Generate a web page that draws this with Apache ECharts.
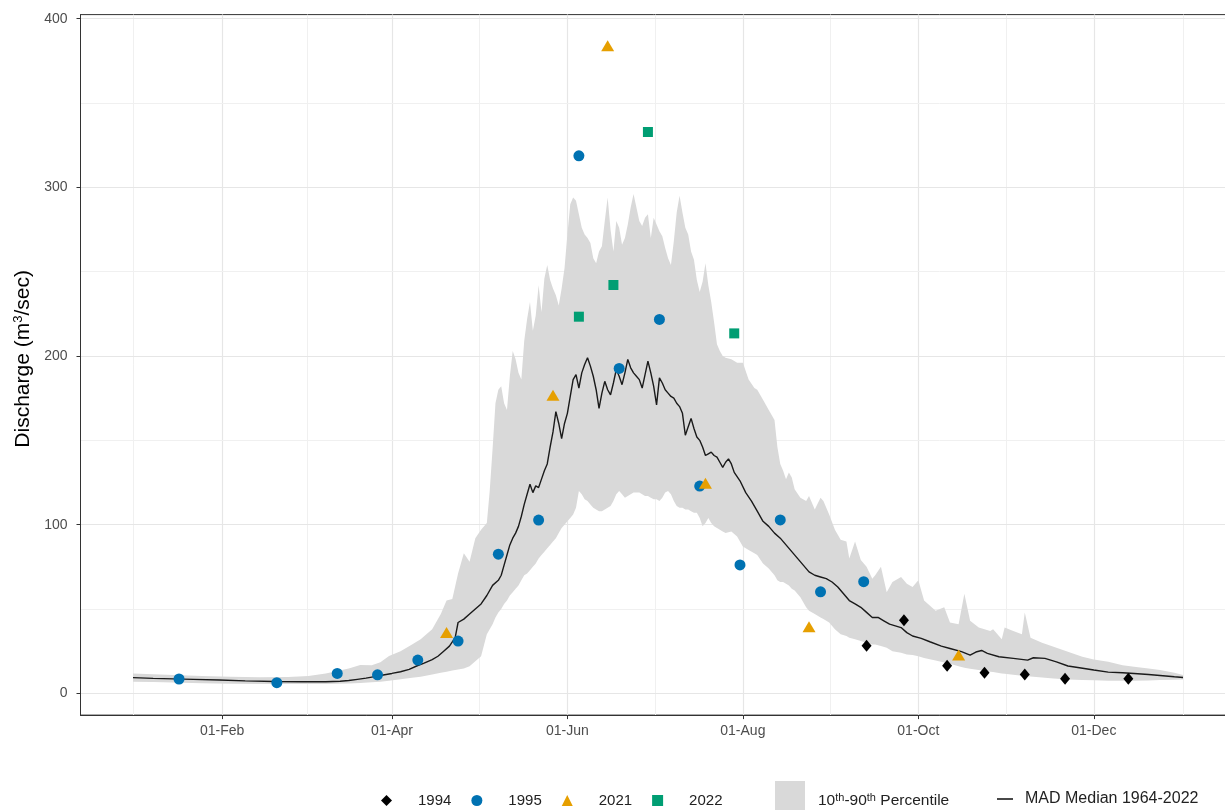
<!DOCTYPE html>
<html>
<head>
<meta charset="utf-8">
<title>Discharge</title>
<script src="https://cdn.jsdelivr.net/npm/echarts@6/dist/echarts.min.js"></script>
<style>
  html, body { margin: 0; padding: 0; background: #fff; }
  #chart { width: 1225px; height: 810px; }
</style>
</head>
<body>
<div id="chart"></div>
<script>
// x axis = day of year
const tickDays = [32, 91, 152, 213, 274, 335];
const tickLabels = ['01-Feb', '01-Apr', '01-Jun', '01-Aug', '01-Oct', '01-Dec'];
const minorDays = [1, 61.5, 121.5, 182.5, 243.5, 304.5, 366];
const yTicks = [0, 100, 200, 300, 400];
const yMinor = [50, 150, 250, 350];

// single years (biweekly measurements)
const days1994 = [256, 269, 284, 297, 311, 325, 347];
const vals1994 = [28.2, 43.4, 16.4, 12.2, 11.2, 8.6, 8.6];
const days1995 = [17, 51, 72, 86, 100, 114, 128, 142, 156, 170, 184, 198, 212, 226, 240, 255];
const vals1995 = [8.5, 6.3, 11.8, 11.0, 19.7, 31.0, 82.5, 102.7, 318.7, 192.6, 221.7, 122.9, 76.1, 102.8, 60.2, 66.2];
const days2021 = [110, 147, 166, 200, 236, 288];
const vals2021 = [36.1, 176.8, 384.0, 124.5, 39.5, 22.7];
const days2022 = [156, 168, 180, 210];
const vals2022 = [223.3, 242.1, 332.8, 213.4];

// MAD median 1964-2022
const medianDays = [1, 8, 15, 22, 31, 40, 50, 60, 68, 73, 76, 79, 82, 85, 88, 91, 94, 97, 100, 102,
  105, 107, 109, 111, 113, 114, 116, 118, 120, 122, 124, 126, 128, 129, 130, 131, 132, 133, 134, 135,
  136, 137, 138, 139, 140, 141, 142, 143, 144, 145, 146, 147, 148, 149, 150, 151, 152, 153, 154, 155,
  156, 157, 158, 159, 160, 161, 162, 163, 164, 165, 166, 167, 168, 169, 170, 171, 172, 173, 174, 175,
  176, 177, 178, 179, 180, 181, 182, 183, 184, 185, 186, 187, 188, 189, 190, 191, 192, 193, 194, 195,
  196, 197, 198, 199, 200, 201, 202, 203, 204, 205, 206, 207, 208, 209, 210, 212, 214, 216, 218, 220,
  222, 224, 226, 228, 230, 232, 234, 236, 238, 240, 242, 244, 246, 248, 250, 252, 254, 256, 258, 260,
  262, 264, 266, 268, 270, 272, 275, 278, 282, 285, 289, 292, 294, 296, 298, 302, 307, 312, 314, 318,
  322, 326, 330, 335, 340, 345, 349, 354, 358, 363, 366];
const medianVals = [9.3, 8.9, 8.6, 8.3, 7.9, 7.4, 7.0, 6.9, 6.9, 7.2, 7.6, 8.3, 9.0, 9.9, 10.9, 11.8, 12.8, 14.2, 16.5, 17.8,
  20, 22, 25, 28, 33, 42, 44, 47, 50, 53, 58, 64, 67, 70, 76, 82, 88, 92, 95, 99,
  105, 112, 118, 124, 119, 123, 122, 127, 132, 136, 146, 155, 167, 160, 151, 160, 166, 176, 186, 189,
  181, 190, 195, 199, 194, 188, 180, 169, 178, 185, 180, 177, 184, 192, 188, 183, 190, 198, 193, 190,
  188, 186, 181, 189, 197, 190, 182, 171, 187, 184, 180, 178, 176, 175, 172, 170, 166, 153, 158, 163,
  157, 152, 150, 146, 141, 142, 143, 141, 140, 137, 134, 137, 139, 136, 131, 126, 119, 114, 108, 102,
  99, 95, 92, 88, 84, 80, 76, 72, 70, 69, 68, 66, 63, 59, 55, 53, 51, 48, 45, 45,
  43, 41, 40, 39, 36, 34, 32.6, 30.6, 28, 26.6, 24.7, 22.7, 24.5, 25.4, 23.7, 21.7, 20.7, 19.7, 21.1, 20.7,
  18.7, 16.2, 15.2, 13.8, 12.6, 12.2, 11.8, 11.2, 10.6, 9.8, 9.4];

// 10th-90th percentile band
const bandDays = [1, 8, 15, 25, 35, 45, 55, 62, 68, 72, 76, 80, 84, 87, 90, 94, 98, 101, 105, 108,
  110, 112, 114, 116, 118, 120, 122, 124, 125, 126, 127, 128, 129, 130, 131, 132, 133, 134, 135, 136,
  137, 138, 139, 140, 141, 142, 143, 144, 145, 146, 147, 148, 149, 150, 151, 152, 153, 154, 155, 156,
  157, 158, 159, 160, 161, 162, 163, 164, 165, 166, 167, 168, 169, 170, 171, 172, 173, 174, 175, 176,
  177, 178, 179, 180, 181, 182, 183, 184, 185, 186, 187, 188, 189, 190, 191, 192, 193, 194, 195, 196,
  197, 198, 199, 200, 201, 202, 203, 204, 205, 206, 207, 209, 211, 213, 215, 217, 218, 220, 222, 224,
  225, 226, 227, 228, 229, 230, 231, 233, 235, 236, 238, 240, 241, 243, 245, 247, 249, 250, 252, 254,
  256, 258, 259, 261, 263, 265, 268, 270, 272, 274, 276, 280, 283, 285, 288, 290, 292, 295, 299, 300,
  303, 304, 307, 310, 311, 313, 317, 321, 326, 331, 335, 340, 345, 349, 354, 358, 363, 366];
const bandLow = [6.9, 6.7, 6.4, 6.0, 5.7, 5.5, 5.5, 5.5, 5.6, 5.7, 5.9, 6.2, 6.6, 6.9, 7.4, 8.3, 9.2, 9.9, 11.2, 12.2,
  12.8, 13.5, 14.2, 14.8, 16, 19, 22, 35, 38, 41, 45, 48, 50, 53, 55, 58, 60, 62, 64, 67,
  70, 71, 73, 75, 77, 80, 82, 84, 86, 88, 90, 92, 95, 98, 100, 102, 104, 106, 110, 120,
  118, 115, 114, 112, 110, 109, 108, 108, 109, 110, 111, 114, 118, 120, 118, 116, 117, 118, 119, 119,
  119, 118, 117, 117, 116, 115, 115, 114, 116, 119, 120, 118, 114, 111, 110, 110, 109, 109, 108, 107,
  107, 104, 99, 101, 104, 101, 99, 98, 97, 96, 95, 96, 93, 87, 85, 83, 82, 77, 74, 70,
  67, 66, 66, 65, 64, 62, 61, 57, 51, 49, 47, 45, 44, 42, 38, 35, 34, 33, 32, 31,
  30, 29, 29, 28, 27, 25, 24, 23, 22.7, 22, 21, 19.5, 18.3, 17.5, 16, 15.2, 14.6, 13.8, 12.8, 12.6,
  11.8, 11.6, 11, 10.5, 10.3, 10, 9.4, 8.8, 8.2, 7.9, 7.7, 7.5, 7.5, 7.5, 7.6, 7.9, 8.0, 8.2];
const bandHigh = [11.8, 11.3, 10.9, 10.3, 9.9, 9.6, 9.7, 10.3, 11.8, 13.2, 14.8, 16.8, 16.6, 18.5, 22.2, 25, 29, 32, 38, 47,
  55, 56, 71, 83, 78, 92, 97, 101, 120, 145, 172, 180, 182, 172, 168, 188, 203, 198, 190, 186,
  209, 222, 232, 215, 224, 242, 226, 246, 254, 245, 240, 236, 230, 240, 252, 272, 290, 294, 292, 284,
  276, 272, 270, 267, 258, 255, 262, 265, 280, 294, 275, 262, 280, 276, 266, 270, 278, 288, 296, 288,
  280, 277, 282, 284, 270, 282, 278, 274, 271, 264, 258, 254, 268, 285, 295, 285, 276, 272, 262, 257,
  245, 238, 244, 255, 242, 232, 220, 207, 203, 200, 199, 198, 196, 196, 186, 181, 180, 174, 168, 162,
  146, 136, 132, 127, 131, 128, 121, 116, 114, 117, 109, 116, 114, 106, 97, 91, 90, 80, 90, 79,
  75, 68, 70, 75, 60, 66, 69, 65, 63, 67, 55, 49, 51, 42, 41, 59, 43, 39, 37, 38,
  32, 39, 37, 35, 48, 33, 30, 27.6, 24.7, 21.7, 20.1, 18.7, 16.7, 15.8, 14.8, 13.8, 12.2, 10.8];

const FONT = 'Liberation Sans';
const pair = (xs, ys) => xs.map((x, i) => [x, ys[i]]);

const chart = echarts.init(document.getElementById('chart'));

// ggplot-like grid lines, drawn as mark lines under everything
const major = { color: '#e6e6e6', width: 1.2, type: 'solid' };
const minor = { color: '#f0f0f0', width: 1, type: 'solid' };
const gridLines = [
  ...tickDays.map((d) => ({ xAxis: d, lineStyle: major })),
  ...minorDays.map((d) => ({ xAxis: d, lineStyle: minor })),
  ...yTicks.map((v) => ({ yAxis: v, lineStyle: major })),
  ...yMinor.map((v) => ({ yAxis: v, lineStyle: minor })),
];

const option = {
  animation: false,
  backgroundColor: '#fff',
  grid: {
    left: 80.5,
    top: 14.6,
    width: 1153.7,
    height: 700.5,
    outerBoundsMode: 'none',
    containLabel: false,
    show: true,
    borderColor: '#333',
    borderWidth: 1,
  },
  xAxis: {
    type: 'value',
    min: -17.25,
    max: 383.8,
    splitLine: { show: false },
    axisLine: { show: true, onZero: false, lineStyle: { color: '#333', width: 1 } },
    axisTick: { show: true, customValues: tickDays, length: 4, lineStyle: { color: '#333' } },
    axisLabel: {
      customValues: tickDays,
      formatter: (v) => tickLabels[tickDays.indexOf(v)] || '',
      color: '#4d4d4d',
      fontSize: 14,
      fontFamily: FONT,
      margin: 9,
    },
  },
  yAxis: {
    type: 'value',
    min: -12.9,
    max: 402.4,
    name: 'Discharge (m{sup|3}/sec)',
    nameLocation: 'middle',
    nameGap: 45,
    nameTextStyle: {
      fontSize: 21,
      color: '#000',
      fontFamily: FONT,
      padding: [0, 0, 0, 12],
      rich: { sup: { fontSize: 13, fontFamily: FONT, color: '#000', verticalAlign: 'top' } },
    },
    splitLine: { show: false },
    axisLine: { show: true, onZero: false, lineStyle: { color: '#333', width: 1 } },
    axisTick: { show: true, customValues: yTicks, length: 4, lineStyle: { color: '#333' } },
    axisLabel: {
      customValues: yTicks,
      color: '#4d4d4d',
      fontSize: 14,
      fontFamily: FONT,
      margin: 13,
    },
  },
  legend: [
    {
      data: ['1994', '1995', '2021', '2022'],
      left: 381,
      top: 793,
      padding: 0,
      itemWidth: 11,
      itemHeight: 11,
      itemGap: 20,
      textStyle: { fontSize: 15, color: '#222', fontFamily: FONT, padding: [0, 0, 0, 21] },
    },
    {
      data: [{ name: '10th-90th Percentile', icon: 'rect' }],
      left: 775,
      top: 781,
      padding: 0,
      itemWidth: 30,
      itemHeight: 31,
      formatter: () => '10{sup|th}-90{sup|th} Percentile',
      textStyle: {
        fontSize: 15.5,
        color: '#222',
        fontFamily: FONT,
        padding: [8, 0, 0, 8],
        rich: { sup: { fontSize: 11, fontFamily: FONT, color: '#222', verticalAlign: 'top' } },
      },
    },
    {
      data: [{ name: 'MAD Median 1964-2022', icon: 'rect' }],
      left: 997,
      top: 791,
      padding: 0,
      itemWidth: 16,
      itemHeight: 1.6,
      textStyle: { fontSize: 16, color: '#222', fontFamily: FONT, padding: [0, 0, 0, 7] },
    },
  ],
  series: [
    {
      name: 'grid',
      type: 'line',
      data: [],
      silent: true,
      z: 0,
      markLine: {
        silent: true,
        z: 0,
        symbol: ['none', 'none'],
        label: { show: false },
        emphasis: { disabled: true },
        data: gridLines,
      },
    },
    {
      name: '10th-90th Percentile',
      type: 'custom',
      z: 1,
      silent: true,
      itemStyle: { color: '#d9d9d9' },
      data: bandDays.map((d, i) => [d, bandLow[i], bandHigh[i]]),
      encode: { x: 0, y: [1, 2] },
      renderItem: (params, api) => {
        if (params.dataIndex !== 0) return null;
        const pts = [];
        for (let i = 0; i < bandDays.length; i++) pts.push(api.coord([bandDays[i], bandHigh[i]]));
        for (let i = bandDays.length - 1; i >= 0; i--) pts.push(api.coord([bandDays[i], bandLow[i]]));
        return { type: 'polygon', shape: { points: pts }, style: { fill: '#d9d9d9' } };
      },
    },
    {
      name: 'MAD Median 1964-2022',
      type: 'line',
      z: 3,
      symbol: 'none',
      data: pair(medianDays, medianVals),
      itemStyle: { color: '#1a1a1a' },
      lineStyle: { color: '#1a1a1a', width: 1.4 },
    },
    {
      name: '1994',
      type: 'scatter',
      z: 4,
      symbol: 'diamond',
      symbolSize: [10, 12],
      itemStyle: { color: '#000', opacity: 1 },
      data: pair(days1994, vals1994),
    },
    {
      name: '1995',
      type: 'scatter',
      z: 4,
      symbol: 'circle',
      symbolSize: 11,
      itemStyle: { color: '#0072B2', opacity: 1 },
      data: pair(days1995, vals1995),
    },
    {
      name: '2021',
      type: 'scatter',
      z: 4,
      symbol: 'triangle',
      symbolSize: [13, 11],
      itemStyle: { color: '#E69F00', opacity: 1 },
      data: pair(days2021, vals2021),
    },
    {
      name: '2022',
      type: 'scatter',
      z: 4,
      symbol: 'rect',
      symbolSize: 10,
      itemStyle: { color: '#009E73', opacity: 1 },
      data: pair(days2022, vals2022),
    },
  ],
};

chart.setOption(option);
</script>
</body>
</html>
